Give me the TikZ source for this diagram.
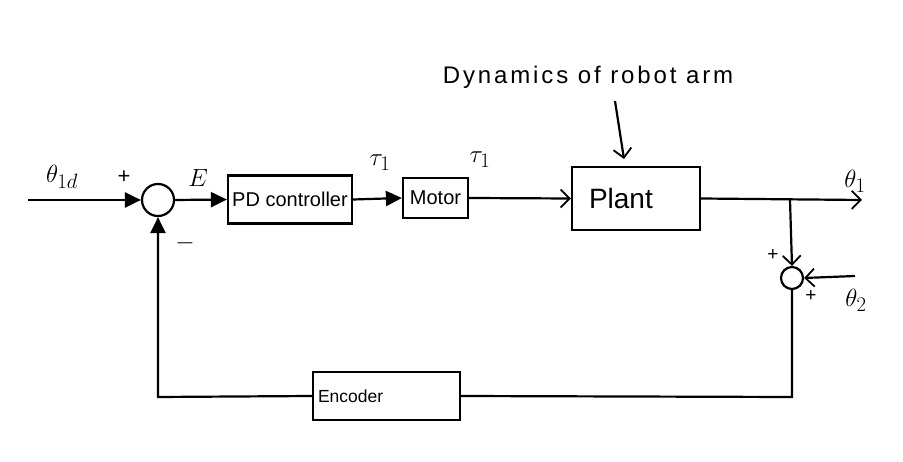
\documentclass[tikz,border=0pt]{standalone}
\usepackage{fontspec}
\setmainfont{Liberation Sans}
\usetikzlibrary{arrows.meta}
\begin{document}
\begin{tikzpicture}[x=1pt,y=-1pt,
  line width=2.2pt,
  blk/.style={draw,line width=2.2pt,inner sep=4pt},
  sumnode/.style={draw,circle,line width=2.2pt,inner sep=0pt},
  fill tip/.style={-{Triangle[length=16pt,width=15pt]}},
  open tip/.style={-{Straight Barb[length=9pt,width=18pt,line width=1.8pt]}},
  lbl/.style={inner sep=0pt},
]
\useasboundingbox[fill=white] (0,0) rectangle (903,462);

% blocks
\node[sumnode,minimum size=32pt] (sum1) at (158,200) {};
\node[blk,minimum width=124pt,minimum height=48pt,font=\fontsize{20}{22}\selectfont] (pd) at (290,199.5) {PD controller};
\node[blk,minimum width=65pt,minimum height=40pt,inner xsep=2pt,font=\fontsize{20}{22}\selectfont] (motor) at (435.5,198) {Motor};
\node[blk,minimum width=128pt,minimum height=63pt,text width=106pt,inner xsep=11pt,align=left,font=\fontsize{28}{30}\selectfont] (plant) at (636,198.5) {\hspace*{6pt}Plant};
\node[sumnode,minimum size=22pt] (sum2) at (792,278) {};
\node[blk,minimum width=147pt,minimum height=48pt,text width=137pt,inner xsep=5pt,align=left,font=\fontsize{17.5}{19}\selectfont] (enc) at (386.5,396) {Encoder};
\node[lbl,font=\fontsize{24}{27}\selectfont\addfontfeature{LetterSpace=12}] (dyn) at (588,77) {Dynamics of robot arm};

% coordinates
\coordinate (in) at (28,200);
\coordinate (out) at (862,200);
\coordinate (br) at (790,200);
\coordinate (in2) at (855,276);
\coordinate (c1) at (792,397);
\coordinate (c2) at (158,397);
\coordinate (dynend) at (624,159);
\coordinate (dynstart) at (615,101);

% connectors
\draw[fill tip] (in) -- (sum1.west);
\draw[fill tip] (sum1.east) -- (pd.west);
\draw[fill tip] (pd.east) -- (motor.west);
\draw[open tip] (motor.east) -- (plant.west);
\draw[open tip] (plant.east) -- (out);
\draw[open tip] (br) -- (sum2.north);
\draw[open tip] (in2) -- (sum2.east);
\draw (sum2.south) -- (c1) -- (enc.east);
\draw[fill tip] (enc.west) -- (c2) -- (sum1.south);
\draw[open tip] (dynstart) -- (dynend);

% labels
\node[lbl,font=\fontsize{28}{30}\selectfont] (thd) at (62,177) {$\theta_{1d}$};
\node[lbl,font=\fontsize{22}{24}\selectfont] (p1) at (124,177) {+};
\node[lbl,font=\fontsize{24}{26}\selectfont] (m1) at (185,243) {$-$};
\node[lbl,font=\fontsize{28}{30}\selectfont] (e) at (198,178) {$E$};
\node[lbl,font=\fontsize{30}{32}\selectfont] (tau1) at (380,163) {$\tau_1$};
\node[lbl,font=\fontsize{30}{32}\selectfont] (tau2) at (480,160) {$\tau_1$};
\node[lbl,font=\fontsize{28}{30}\selectfont] (th1) at (855,181) {$\theta_1$};
\node[lbl,font=\fontsize{19}{21}\selectfont] (p2) at (773,255) {+};
\node[lbl,font=\fontsize{19}{21}\selectfont] (p3) at (811,296) {+};
\node[lbl,font=\fontsize{28}{30}\selectfont] (th2) at (856,300) {$\theta_2$};
\end{tikzpicture}
\end{document}
